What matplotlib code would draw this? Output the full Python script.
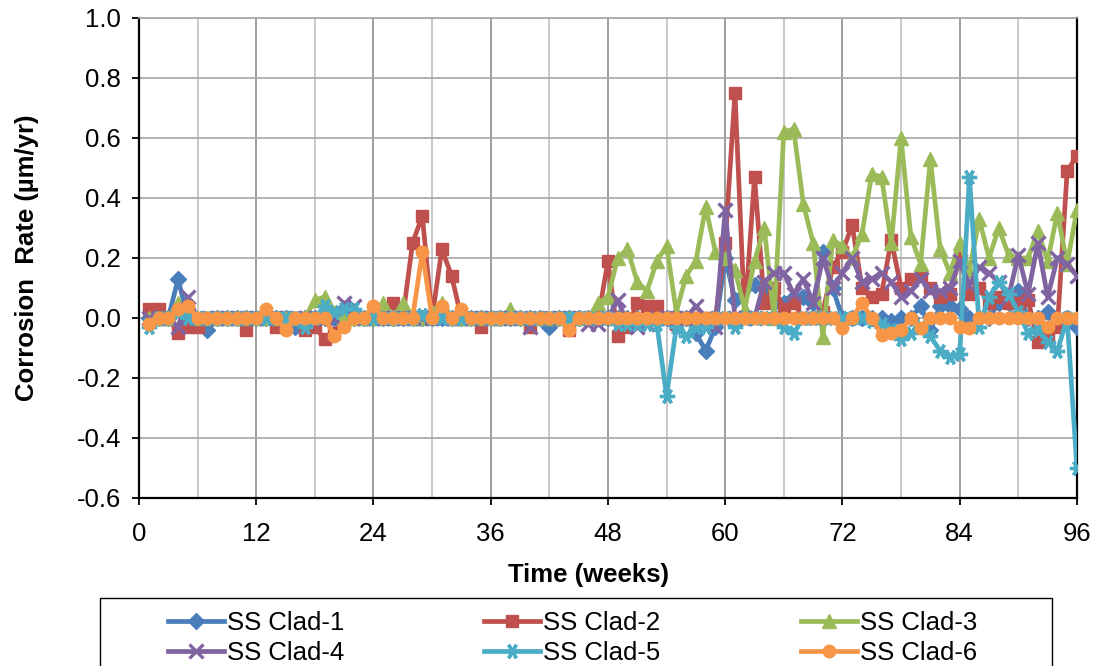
import numpy as np
import matplotlib.pyplot as plt
from matplotlib.ticker import MultipleLocator
from matplotlib.patches import Rectangle

plt.rcParams['font.family'] = ['Liberation Sans', 'DejaVu Sans']

weeks = list(range(1, 97))

clad1 = [0, 0, 0, 0.13, 0, -0.02, -0.04, 0, 0, 0, 0, 0,
         0, 0, 0, -0.03, 0, 0, 0, 0, 0, 0, 0, 0,
         0, 0, 0, 0, 0, 0, 0, 0, 0, 0, 0, 0,
         0, 0, 0, 0, 0, -0.03, 0, 0, 0, 0, 0, 0,
         0, 0, 0, 0, 0, 0, 0, 0, -0.05, -0.11, -0.03, 0.2,
         0.06, 0.1, 0.11, 0.1, 0.05, 0.05, 0.07, 0.07, 0.05, 0.22, 0.1, 0,
         0, 0, 0, 0, -0.01, 0, 0, 0.04, -0.04, 0.04, 0.04, 0.03,
         0, 0, 0, 0.05, 0.05, 0.09, 0, 0, 0.02, 0, 0, -0.03]

clad2 = [0.03, 0.03, 0, -0.05, -0.03, -0.03, 0, 0, 0, 0, -0.04, 0,
         0, -0.03, 0, 0, -0.04, -0.03, -0.07, -0.05, 0, 0, 0, 0,
         0, 0.05, 0, 0.25, 0.34, 0, 0.23, 0.14, 0, 0, -0.03, 0,
         0, 0, 0, -0.03, 0, 0, 0, -0.04, 0, 0, 0, 0.19,
         -0.06, -0.03, 0.05, 0.04, 0.04, 0, -0.02, 0, 0, 0, 0, 0.25,
         0.75, 0, 0.47, 0.05, 0.1, 0.03, 0.05, 0, 0, 0.02, 0.17, 0.22,
         0.31, 0.1, 0.07, 0.08, 0.26, 0.1, 0.13, 0.14, 0.1, 0.07, 0.08, 0.2,
         0.08, 0.1, 0.05, 0.07, 0.05, 0.05, 0.06, -0.08, -0.06, -0.03, 0.49, 0.54]

clad3 = [0, 0, 0, 0.05, 0.04, 0, 0, 0, 0, 0, 0, 0,
         0, 0, 0, 0, 0, 0.06, 0.07, 0.02, 0, 0, 0, 0,
         0.05, 0, 0.05, 0, 0, 0.02, 0.05, 0, 0, 0, 0, 0,
         0, 0.03, 0, 0, 0, 0, 0, 0, 0, 0, 0.05, 0.07,
         0.2, 0.23, 0.12, 0.09, 0.19, 0.24, 0.02, 0.14, 0.19, 0.37, 0.22, 0.2,
         0.16, 0.03, 0.19, 0.3, 0, 0.62, 0.63, 0.38, 0.25, -0.065, 0.26, 0.24,
         0.2, 0.28, 0.48, 0.47, 0.25, 0.6, 0.27, 0.18, 0.53, 0.23, 0.15, 0.25,
         0.16, 0.33, 0.2, 0.3, 0.21, 0.2, 0.2, 0.29, 0.19, 0.35, 0.18, 0.36]

clad4 = [0, 0, 0, -0.03, 0.07, 0, 0, 0, 0, 0, 0, 0,
         0, 0, 0, 0, 0, 0, 0, 0, 0.05, 0.04, 0, 0,
         0, 0, 0, 0, 0, 0, 0, 0, 0, 0, 0, 0,
         0, 0, 0, -0.03, 0, 0, 0, 0, 0, -0.02, -0.02, 0,
         0.06, -0.02, -0.03, -0.02, 0, 0, 0, 0, 0.04, 0, -0.03, 0.36,
         0, 0, 0, 0.12, 0.15, 0.15, 0.08, 0.13, 0.05, 0.2, 0.1, 0.15,
         0.2, 0.12, 0.13, 0.15, 0.12, 0.07, 0.09, 0.13, 0.09, 0.09, 0.1, 0.19,
         0.11, 0.17, 0.15, 0.12, 0.07, 0.21, 0.08, 0.25, 0.07, 0.2, 0.18, 0.14]

clad5 = [-0.03, 0, 0, 0.02, 0, 0, 0, 0, 0, 0, 0, 0,
         0, 0, 0, 0, -0.03, 0, 0.04, 0.02, 0.03, 0.03, 0, 0,
         0, 0, 0, 0, 0.01, 0, 0, 0, 0, 0, 0, 0,
         0, 0, 0, 0, 0, 0, 0, 0, 0, 0, 0, 0,
         -0.02, -0.02, -0.02, -0.02, -0.02, -0.26, -0.03, -0.06, -0.03, -0.03, 0, 0,
         -0.03, 0, 0, 0, 0, -0.03, -0.05, 0, 0, 0, 0, 0,
         0, 0, -0.01, -0.02, -0.04, -0.07, -0.05, -0.03, -0.06, -0.11, -0.13, -0.12,
         0.47, -0.03, 0.07, 0.12, 0.08, 0.02, -0.05, -0.04, -0.08, -0.11, 0, -0.5]

clad6 = [-0.02, 0, 0, 0.03, 0.04, 0, 0, 0, 0, 0, 0, 0,
         0.03, 0, -0.04, 0, 0, 0, 0, -0.06, -0.03, 0, 0, 0.04,
         0, 0, 0, 0, 0.22, 0, 0.04, 0, 0.03, 0, 0, 0,
         0, 0, 0, 0, 0, 0, 0, -0.04, 0, 0, 0, 0,
         0, 0, 0, 0, 0, 0, 0, 0, 0, 0, 0, 0,
         0, 0, 0, 0, 0, 0, 0, 0, 0, 0, 0, -0.035,
         0, 0.05, 0, -0.056, -0.05, -0.04, 0, -0.035, 0, 0, 0, -0.03,
         -0.035, 0, 0, 0, 0, 0, 0, 0, -0.03, 0, 0, 0]

labels = ["SS Clad-1", "SS Clad-2", "SS Clad-3", "SS Clad-4", "SS Clad-5", "SS Clad-6"]
colors = ["#4A7EBB", "#C0504D", "#9BBB59", "#8064A2", "#4BACC6", "#F79646"]
markers = ["D", "s", "^", "x", (6, 2, 90), "o"]
msizes = [8, 9, 10, 10, 11, 9]
series = [clad1, clad2, clad3, clad4, clad5, clad6]

fs = 18.5

fig = plt.figure(figsize=(10.96, 6.66), dpi=100)
ax = fig.add_axes([0.1268, 0.2523, 0.8558, 0.7207])

lines = []
for i in range(6):
    ln, = ax.plot(weeks, series[i], color=colors[i], lw=3.4, marker=markers[i],
                  ms=msizes[i], mew=2.4 if i in (3, 4) else 1, mec=colors[i],
                  mfc=colors[i], label=labels[i], zorder=3 + i)
    lines.append(ln)

ax.set_xlim(0, 96)
ax.set_ylim(-0.6, 1.0)
ax.xaxis.set_major_locator(MultipleLocator(12))
ax.xaxis.set_minor_locator(MultipleLocator(6))
ax.yaxis.set_major_locator(MultipleLocator(0.2))
ax.set_yticks(ax.get_yticks())
ax.set_yticklabels([f"{v:.1f}" for v in ax.get_yticks()])
ax.set_ylim(-0.6, 1.0)

ax.grid(True, which="major", axis="x", color="#8c8c8c", lw=1.2)
ax.grid(True, which="minor", axis="x", color="#c0c0c0", lw=1.2)
ax.grid(True, which="major", axis="y", color="#a6a6a6", lw=1.2)
ax.set_axisbelow(True)

ax.tick_params(axis="both", which="major", direction="out", length=5,
               width=1.3, labelsize=fs, colors="black")
ax.tick_params(axis="x", which="minor", length=0)
ax.tick_params(axis="x", pad=12)
ax.tick_params(axis="y", pad=8)

for s in ["left", "bottom", "right"]:
    ax.spines[s].set_color("black")
    ax.spines[s].set_linewidth(1.6)
ax.spines["top"].set_color("#a6a6a6")
ax.spines["top"].set_linewidth(1.2)

ax.set_xlabel("Time (weeks)", fontsize=fs, fontweight="bold")
ax.xaxis.set_label_coords(0.479, -0.135)
ax.set_ylabel("Corrosion  Rate (µm/yr)", fontsize=fs, fontweight="bold")
ax.yaxis.set_label_coords(-0.107, 0.5)

# legend filled row by row, like the original
order = [0, 3, 1, 4, 2, 5]
fig.legend([lines[k] for k in order], [labels[k] for k in order],
           loc="upper left", bbox_to_anchor=(168 / 1096, 1 - 611 / 666),
           ncol=3, fontsize=fs, frameon=False, handlelength=2.18,
           handletextpad=0.12, columnspacing=5.45, borderpad=0,
           borderaxespad=0, labelspacing=0.22)
fig.patches.append(Rectangle((100 / 1096, -0.05), 952 / 1096, 0.05 + 68 / 666,
                             transform=fig.transFigure, fill=False,
                             edgecolor="black", lw=1.0))

fig.savefig("out.png", dpi=100)
